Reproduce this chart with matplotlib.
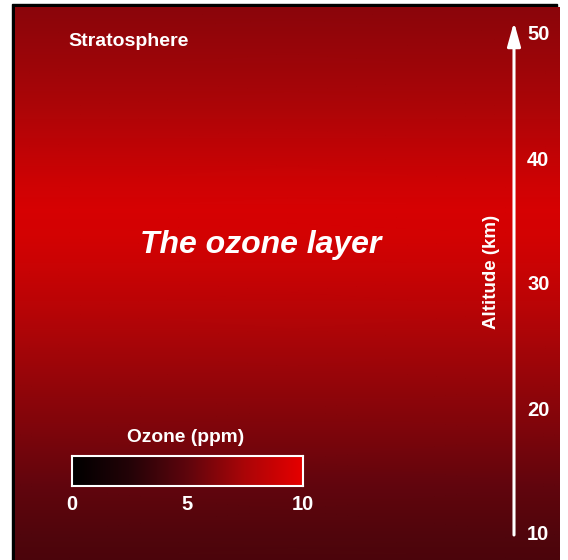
import numpy as np
import matplotlib
matplotlib.use("Agg")
import matplotlib.pyplot as plt
from matplotlib.colors import LinearSegmentedColormap
from matplotlib.patches import Rectangle

# ---- data ----
altitude_km = [8, 10, 14, 18, 22, 25, 28, 31, 34, 36, 38, 41, 44, 47, 50, 52.5]
ozone_ppm = [4.2, 4.4, 5.1, 5.9, 6.7, 7.3, 8.0, 8.7, 9.2, 9.3, 9.0, 8.3, 7.6, 7.1, 6.7, 6.4]
alt_ticks = [10, 20, 30, 40, 50]
cbar_ticks = [0, 5, 10]

W, H = 568, 560
fig = plt.figure(figsize=(W / 100, H / 100), dpi=100)
fig.patch.set_facecolor("white")

def fr(x0, y0, x1, y1):
    return [x0 / W, 1 - y1 / H, (x1 - x0) / W, (y1 - y0) / H]

cmap = LinearSegmentedColormap.from_list(
    "ozone",
    [(0.0, (0, 0, 0)), (0.25, (0.14, 0.012, 0.03)), (0.5, (0.37, 0.02, 0.05)),
     (0.75, (0.67, 0.02, 0.03)), (1.0, (0.9, 0.0, 0.0))])

# black frame behind the panel (left and top edges)
fig.patches.append(Rectangle((12 / W, 0), (557 - 12) / W, 1 - 4 / H,
                             transform=fig.transFigure, color="black", zorder=-5))

ax = fig.add_axes(fr(15, 7, 560, 560))
ax.set_xlim(0, 1)
ylo = 50 - (560 - 35) / 12.5
yhi = 50 + (35 - 7) / 12.5
ax.set_ylim(ylo, yhi)
alts = np.array(altitude_km, dtype=float)
X = np.array([[0.0, 1.0]] * len(alts))
Y = np.column_stack([alts, alts])
C = np.column_stack([ozone_ppm, ozone_ppm])
ax.pcolormesh(X, Y, C, cmap=cmap, vmin=0, vmax=10, shading="gouraud",
              antialiased=False)
ax.set_axis_off()

# altitude arrow
xa = (514 - 15) / 545
ax.annotate("", xy=(xa, 50 + 13 / 12.5), xytext=(xa, 10),
            arrowprops=dict(arrowstyle="-|>,head_length=0.72,head_width=0.2",
                            color="white", lw=2.2,
                            mutation_scale=20, shrinkA=0, shrinkB=0))
xt = (527 - 15) / 545
for t in alt_ticks:
    ax.text(xt, t, str(t), color="white", fontsize=14.5, fontweight="bold",
            ha="left", va="center", family="Liberation Sans")
ax.text((491 - 15) / 545, 50 - (272 - 35) / 12.5, "Altitude (km)", color="white",
        fontsize=13.5, fontweight="bold", rotation=90, ha="center", va="center",
        family="Liberation Sans")

fig.text(68 / W, 1 - 41 / H, "Stratosphere", color="white", fontsize=14,
         fontweight="bold", ha="left", va="center", family="Liberation Sans")
fig.text(261 / W, 1 - 245 / H, "The ozone layer", color="white", fontsize=23,
         fontweight="bold", style="italic", ha="center", va="center",
         family="Liberation Sans")

# colour bar
cax = fig.add_axes(fr(72, 456, 303, 486))
grad = np.linspace(0, 10, 256).reshape(1, -1)
cax.imshow(grad, cmap=cmap, vmin=0, vmax=10, aspect="auto",
           extent=[cbar_ticks[0], cbar_ticks[-1], 0, 1])
cax.set_xticks([])
cax.set_yticks([])
for s in cax.spines.values():
    s.set_color("white")
    s.set_linewidth(1.5)
fig.text(186 / W, 1 - 437 / H, "Ozone (ppm)", color="white", fontsize=13.8,
         fontweight="bold", ha="center", va="center", family="Liberation Sans")
for t in cbar_ticks:
    px = 72 + (303 - 72) * (t - cbar_ticks[0]) / (cbar_ticks[-1] - cbar_ticks[0])
    fig.text(px / W, 1 - 505 / H, str(t), color="white", fontsize=14.5,
             fontweight="bold", ha="center", va="center", family="Liberation Sans")

fig.savefig("out.png", dpi=100, facecolor="white")
